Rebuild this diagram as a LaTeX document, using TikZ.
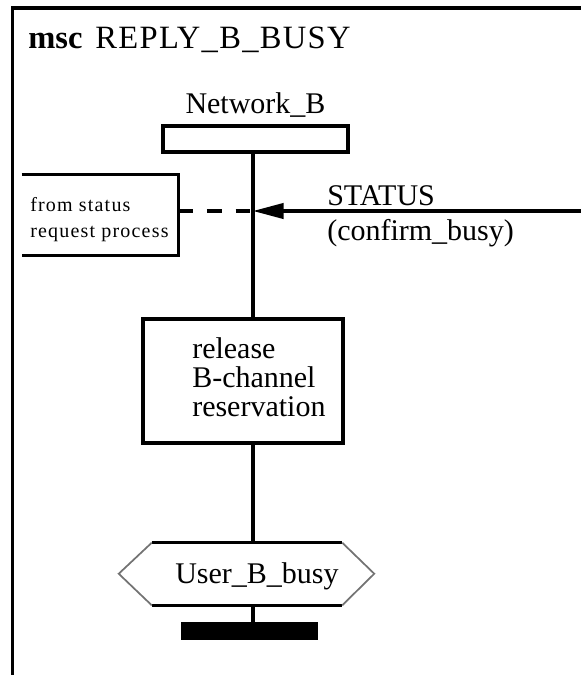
\documentclass[tikz,border=0pt]{standalone}
\usepackage{fontspec}
\setmainfont{Liberation Serif}
\newfontfamily\titlefont[LetterSpace=4]{Liberation Serif}
\newfontfamily\smallfont[LetterSpace=6]{Liberation Serif}
\usetikzlibrary{arrows.meta}

\tikzset{
	line/.style={line width=2.35pt},
	box/.style={draw, line width=2.35pt},
	msg/.style={line width=2.35pt, -{Triangle[length=23pt,width=11.5pt]}},
	hexside/.style={line width=1.3pt, black!55}
}

\begin{document}
\begin{tikzpicture}[x=0.75pt, y=-0.75pt,
	every node/.style={inner sep=0pt, font=\fontsize{22.5}{21.75}\selectfont}]

	\useasboundingbox (0,0) rectangle (581,675);
	\draw[line] (12.5,675) |- (581,8);

	\node[anchor=base west, font=\fontsize{24.4}{28}\selectfont] (title) at (28,48) {\textbf{msc}\hspace{0.4em}{\titlefont REPLY\_B\_BUSY}};

	% instance
	\node[anchor=base] (nblabel) at (255.5,113) {Network\_B};
	\node[box, minimum width=138.75pt, minimum height=19.5pt] (nb) at (255.5,139) {};
	\coordinate (ll) at (253,0);

	% comment
	\node[minimum width=117pt, minimum height=60pt] (cmt) at (100,215) {};
	\draw[line] (cmt.north west) -- (cmt.north east) -- (cmt.south east) -- (cmt.south west);
	\node[anchor=base west, align=left, font=\fontsize{15}{19.5}\selectfont\smallfont] (cmttxt) at (30,237) {from status\\request process};

	% message
	\coordinate (in) at (253,211);
	\coordinate (env) at (581,211);
	\draw[msg] (env) -- (in);
	\draw[line, dash pattern=on 11pt off 10.5pt] (cmt.east |- in) -- (in);
	\node[anchor=base west, align=left, font=\fontsize{22.5}{26.25}\selectfont] (msglabel) at (327,240) {STATUS\\(confirm\_busy)};

	% action
	\node[box, minimum width=150pt, minimum height=93pt] (act) at (243,381) {};
	\node[anchor=base west, align=left] (acttxt) at (192,416) {release\\B-channel\\reservation};

	% condition
	\node[minimum width=142.5pt, minimum height=46.5pt] (cond) at (247,574) {};
	\draw[line] (cond.north west) -- (cond.north east);
	\draw[line] (cond.south west) -- (cond.south east);
	\draw[hexside] (cond.north east) -- ++(32,31) -- (cond.south east);
	\draw[hexside] (cond.north west) -- ++(-33,31) -- (cond.south west);
	\node[anchor=base west] (condtxt) at (175,583) {User\_B\_busy};

	% stop
	\node[fill, minimum width=102.75pt, minimum height=13.5pt] (stop) at (249.5,631) {};

	% lifeline
	\draw[line] (nb.south -| ll) -- (act.north -| ll);
	\draw[line] (act.south -| ll) -- (cond.north -| ll);
	\draw[line] (cond.south -| ll) -- (stop.north -| ll);
\end{tikzpicture}
\end{document}
